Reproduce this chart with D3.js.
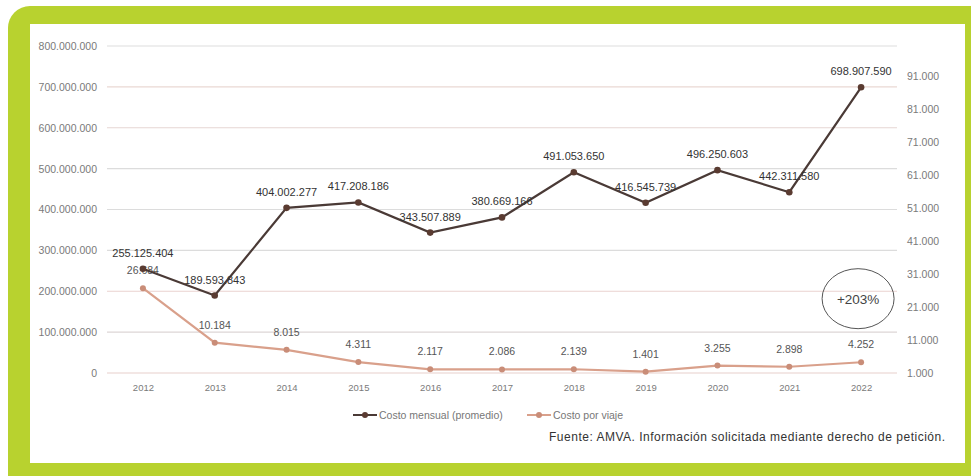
<!DOCTYPE html>
<html><head><meta charset="utf-8">
<script src="https://cdn.jsdelivr.net/npm/d3@7"></script>
<style>
html,body{margin:0;padding:0;background:#fff;}
svg{display:block;font-family:"Liberation Sans",Arial,sans-serif;}
</style></head>
<body>
<svg id="c" width="971" height="476"></svg>
<script>
const years = ["2012","2013","2014","2015","2016","2017","2018","2019","2020","2021","2022"];
const costoMensual = [255125404,189593843,404002277,417208186,343507889,380669166,491053650,416545739,496250603,442311580,698907590];
const costoViaje = [26684,10184,8015,4311,2117,2086,2139,1401,3255,2898,4252];
const leftTicks = [0,100000000,200000000,300000000,400000000,500000000,600000000,700000000,800000000];
const rightTicks = [1000,11000,21000,31000,41000,51000,61000,71000,81000,91000];
const seriesNames = ["Costo mensual (promedio)","Costo por viaje"];
const sourceText = "Fuente: AMVA. Información solicitada mediante derecho de petición.";
const annotation = "+203%";

const loc = d3.formatLocale({decimal:",",thousands:".",grouping:[3],currency:["$",""]});
const fmt = loc.format(",d");

const svg = d3.select("#c");
// frame
svg.append("rect").attr("x",8).attr("y",6).attr("width",990).attr("height",500).attr("rx",22).attr("fill","#b8d22f");
svg.append("rect").attr("x",30).attr("y",24).attr("width",935).attr("height",439).attr("fill","#fff");

const x = d3.scalePoint().domain(years).range([107,897]).padding(0.5);
const yL = d3.scaleLinear().domain([0,800000000]).range([373,46]);
const yR = d3.scaleLinear().domain([1000,100000]).range([373,46]);

// gridlines
const gridColors = ["#e8cfcb","#ddd6d6","#ead2cf","#dcdcdc","#dcdcdc","#dcdcdc","#e6d6d3","#ead8d3","#dedede"];
svg.append("g").selectAll("line").data(leftTicks).join("line")
  .attr("x1",107).attr("x2",897)
  .attr("y1",d=>yL(d)).attr("y2",d=>yL(d))
  .attr("stroke",(d,i)=>gridColors[i]).attr("stroke-width",1.2);

// left axis
const axL = svg.append("g").attr("transform","translate(101,0)")
  .call(d3.axisLeft(yL).tickValues(leftTicks).tickFormat(fmt).tickSize(0).tickPadding(4));
axL.select(".domain").remove();
axL.selectAll("text").attr("fill","#7a7a7a").style("font-size","10.5px").style("font-family","Liberation Sans, Arial, sans-serif");

// right axis
const axR = svg.append("g").attr("transform","translate(903,0)")
  .call(d3.axisRight(yR).tickValues(rightTicks).tickFormat(fmt).tickSize(0).tickPadding(4));
axR.select(".domain").remove();
axR.selectAll("text").attr("fill","#7a7a7a").style("font-size","10.5px").style("font-family","Liberation Sans, Arial, sans-serif");

// x axis
const axX = svg.append("g").attr("transform","translate(0,378)")
  .call(d3.axisBottom(x).tickSize(0).tickPadding(6));
axX.select(".domain").remove();
axX.selectAll("text").attr("fill","#7a7a7a").style("font-size","9.5px").style("font-family","Liberation Sans, Arial, sans-serif");

// series 2 (costo por viaje)
const line2 = d3.line().x((d,i)=>x(years[i])).y(d=>yR(d));
svg.append("path").datum(costoViaje).attr("d",line2).attr("fill","none").attr("stroke","#d9a08b").attr("stroke-width",2.2);
svg.append("g").selectAll("circle").data(costoViaje).join("circle")
  .attr("cx",(d,i)=>x(years[i])).attr("cy",d=>yR(d)).attr("r",3).attr("fill","#c98d78");
svg.append("g").selectAll("text").data(costoViaje).join("text")
  .attr("x",(d,i)=>x(years[i])).attr("y",d=>yR(d)-14)
  .attr("text-anchor","middle").attr("fill","#555").style("font-size","10.5px").text(d=>fmt(d));

// series 1 (costo mensual)
const line1 = d3.line().x((d,i)=>x(years[i])).y(d=>yL(d));
svg.append("path").datum(costoMensual).attr("d",line1).attr("fill","none").attr("stroke","#4a3a36").attr("stroke-width",2.2);
svg.append("g").selectAll("circle").data(costoMensual).join("circle")
  .attr("cx",(d,i)=>x(years[i])).attr("cy",d=>yL(d)).attr("r",3.3).attr("fill","#5a3b31");
svg.append("g").selectAll("text").data(costoMensual).join("text")
  .attr("x",(d,i)=>x(years[i])).attr("y",d=>yL(d)-12)
  .attr("text-anchor","middle").attr("fill","#333").style("font-size","11px").text(d=>fmt(d));

// annotation
svg.append("ellipse").attr("cx",x("2022")-3).attr("cy",yR(23500)).attr("rx",36).attr("ry",30)
  .attr("fill","none").attr("stroke","#555").attr("stroke-width",1);
svg.append("text").attr("x",x("2022")-3).attr("y",yR(23500)+5).attr("text-anchor","middle")
  .attr("fill","#444").style("font-size","13.5px").text(annotation);

// legend
const leg = [{name:seriesNames[0],stroke:"#4a3a36",fill:"#5a3b31",x:353},{name:seriesNames[1],stroke:"#d9a08b",fill:"#c98d78",x:527}];
const lg = svg.append("g").selectAll("g").data(leg).join("g").attr("transform",d=>`translate(${d.x},415)`);
lg.append("line").attr("x1",0).attr("x2",24).attr("stroke",d=>d.stroke).attr("stroke-width",2);
lg.append("circle").attr("cx",12).attr("r",3).attr("fill",d=>d.fill);
lg.append("text").attr("x",26).attr("y",3.5).attr("fill","#777").style("font-size","10.5px").text(d=>d.name);

// source
svg.append("text").attr("x",945).attr("y",441).attr("text-anchor","end")
  .attr("fill","#333").style("font-size","12px")
  .attr("textLength",396).attr("lengthAdjust","spacing").text(sourceText);
</script>
</body></html>
